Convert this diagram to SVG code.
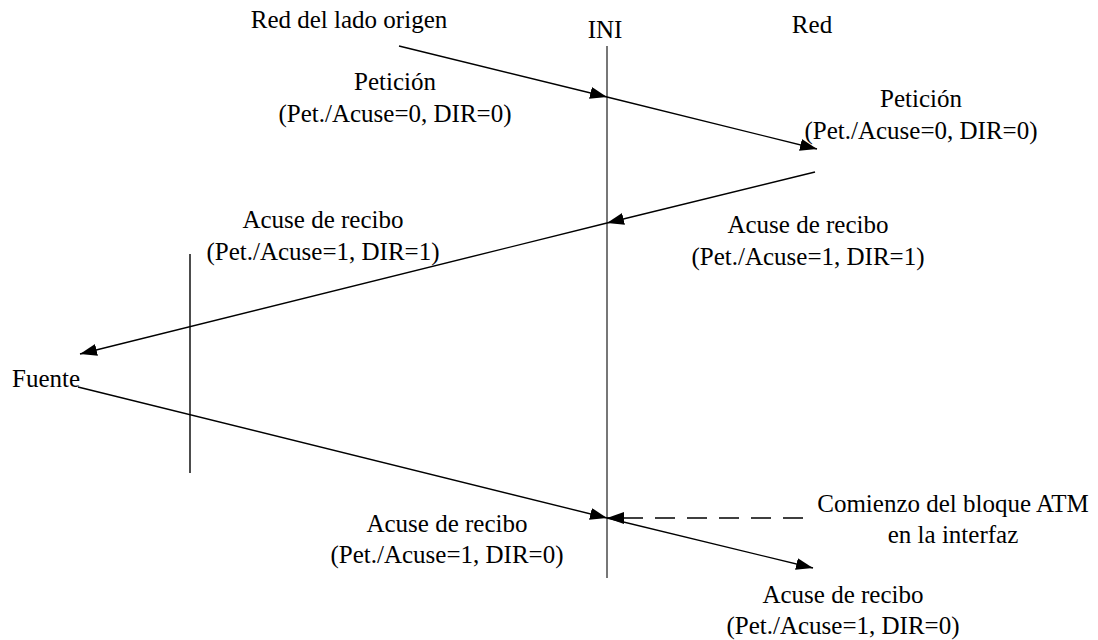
<svg xmlns="http://www.w3.org/2000/svg" width="1098" height="640" viewBox="0 0 1098 640">
<style>
text{font-family:"Liberation Serif","Times New Roman",serif;font-size:25px;fill:#000;text-anchor:middle}
.ln{stroke:#000;stroke-width:1.4;fill:none}
.arr{marker-end:url(#ah)}
.dash{stroke-dasharray:20 12}
</style>
<defs>
<marker id="ah" viewBox="0 0 17 12" refX="17" refY="6" markerWidth="17" markerHeight="12" markerUnits="userSpaceOnUse" orient="auto">
<path d="M0,0 L17,6 L0,12 z" fill="#000" stroke="none"/>
</marker>
</defs>
<rect width="1098" height="640" fill="#fff"/>
<g id="ini">
<line x1="607" y1="46" x2="607" y2="578" stroke="#555" stroke-width="1.6"/>
<text x="605" y="38">INI</text>
</g>
<g id="left-boundary">
<line x1="190" y1="254" x2="190" y2="473" class="ln"/>
</g>
<g id="red-origen"><text x="349" y="28">Red del lado origen</text></g>
<g id="red"><text x="812" y="33">Red</text></g>
<g id="fuente"><text x="12" y="387" style="text-anchor:start">Fuente</text></g>
<g id="comienzo"><text x="953" y="512">Comienzo del bloque ATM</text><text x="953" y="543">en la interfaz</text></g>
<g id="connectors">
<line x1="399" y1="46" x2="607" y2="97" class="ln arr"/>
<line x1="607" y1="97" x2="817" y2="149" class="ln arr"/>
<line x1="815" y1="172" x2="607" y2="223" class="ln arr"/>
<line x1="607" y1="223" x2="80" y2="354" class="ln arr"/>
<line x1="78" y1="387" x2="607" y2="518" class="ln arr"/>
<line x1="607" y1="518" x2="813" y2="568" class="ln arr"/>
<line x1="803" y1="518" x2="607" y2="518" class="ln dash arr"/>
</g>
<g id="labels">
<text x="395" y="90">Petición</text>
<text x="395" y="122">(Pet./Acuse=0, DIR=0)</text>
<text x="921" y="107">Petición</text>
<text x="921" y="139">(Pet./Acuse=0, DIR=0)</text>
<text x="323" y="228">Acuse de recibo</text>
<text x="323" y="260">(Pet./Acuse=1, DIR=1)</text>
<text x="808" y="233">Acuse de recibo</text>
<text x="808" y="265">(Pet./Acuse=1, DIR=1)</text>
<text x="447" y="532">Acuse de recibo</text>
<text x="447" y="563">(Pet./Acuse=1, DIR=0)</text>
<text x="843" y="603">Acuse de recibo</text>
<text x="843" y="634">(Pet./Acuse=1, DIR=0)</text>
</g>
</svg>
